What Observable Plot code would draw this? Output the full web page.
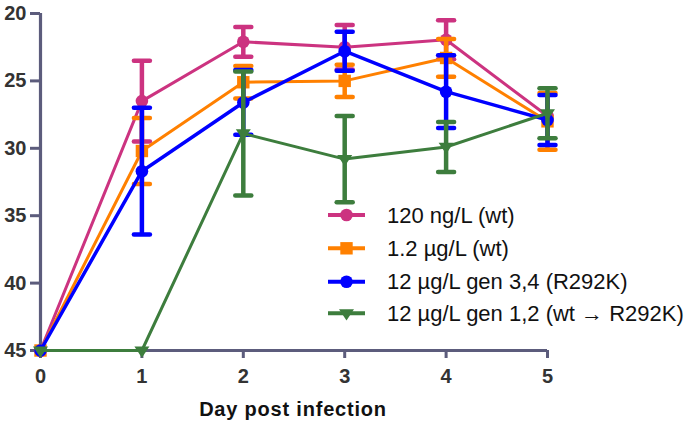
<!DOCTYPE html>
<html>
<head>
<meta charset="utf-8">
<script src="https://cdn.jsdelivr.net/npm/d3@7"></script>
<script src="https://cdn.jsdelivr.net/npm/@observablehq/plot@0.6"></script>
<style>
  html, body { margin: 0; padding: 0; background: #fff; }
  #chart { width: 685px; height: 426px; }
</style>
</head>
<body>
<div id="chart"></div>
<script>
// ---- data ----
const days = [0, 1, 2, 3, 4, 5];
const seriesNames = [
  "120 ng/L (wt)",
  "1.2 µg/L (wt)",
  "12 µg/L gen 3,4 (R292K)",
  "12 µg/L gen 1,2 (wt → R292K)"
];
const wt120Mean   = [45, 26.5, 22.1, 22.5, 21.95, 27.6];
const wt120Err    = [0, 3.0, 1.1, 1.65, 1.45, 0];
const wt12Mean    = [45, 30.2, 25.1, 25.0, 23.3, 28.0];
const wt12Err     = [0, 2.45, 1.2, 1.2, 1.4, 2.1];
const gen34Mean   = [45, 31.7, 26.6, 22.8, 25.8, 27.9];
const gen34Err    = [0, 4.7, 2.4, 1.45, 2.7, 1.85];
const gen12Mean   = [45, 45, 28.9, 30.8, 29.9, 27.4];
const gen12Err    = [0, 0, 4.6, 3.2, 1.85, 1.85];
const yTicks = [20, 25, 30, 35, 40, 45];
const xTicks = [0, 1, 2, 3, 4, 5];
const xLabel = "Day post infection";

const colors = ["#cc3380", "#ff8000", "#0000ff", "#3d7d3d"];

// custom symbols
const capSymbol = {
  draw(ctx, size) {
    const r = Math.sqrt(size / Math.PI);
    ctx.moveTo(-r, 0);
    ctx.lineTo(r, 0);
  }
};
const triDown = {
  draw(ctx, size) {
    const r = Math.sqrt(size / Math.PI);
    ctx.moveTo(-r, -r * 0.55);
    ctx.lineTo(r, -r * 0.55);
    ctx.lineTo(0, r * 0.95);
    ctx.closePath();
  }
};
const symbols = ["circle", "square", "circle", triDown];
const symR = [6.3, 7, 6.3, 7.5];
const lineW = [3, 3, 3.5, 3];

const means = [wt120Mean, wt12Mean, gen34Mean, gen12Mean];
const errs = [wt120Err, wt12Err, gen34Err, gen12Err];

const rows = seriesNames.map((name, s) => days.map((d, i) => ({
  name, s, day: d, mean: means[s][i], err: errs[s][i],
  lo: means[s][i] - errs[s][i], hi: means[s][i] + errs[s][i]
})));

const axisColor = "#5c5c7c";

const marks = [];
rows.forEach((data, s) => {
  const eb = data.filter(d => d.err > 0);
  marks.push(
    Plot.line(data, {x: "day", y: "mean", stroke: colors[s], strokeWidth: lineW[s]}),
    Plot.ruleX(eb, {x: "day", y1: "lo", y2: "hi", stroke: colors[s], strokeWidth: 4.5}),
    Plot.dot(eb, {x: "day", y: "lo", symbol: capSymbol, r: 8, stroke: colors[s], strokeWidth: 4.5, strokeLinecap: "round", fill: "none"}),
    Plot.dot(eb, {x: "day", y: "hi", symbol: capSymbol, r: 8, stroke: colors[s], strokeWidth: 4.5, strokeLinecap: "round", fill: "none"}),
    Plot.dot(data, {x: "day", y: "mean", symbol: symbols[s], r: symR[s], fill: colors[s], stroke: "none"})
  );
});

const chart = Plot.plot({
  width: 685,
  height: 426,
  marginLeft: 40,
  marginRight: 138,
  marginTop: 13,
  marginBottom: 76,
  style: {fontFamily: "Liberation Sans, Arial, sans-serif", background: "#fff"},
  x: {domain: [0, 5]},
  y: {domain: [20, 45], reverse: true},
  marks: [
    Plot.ruleX([0], {stroke: axisColor, strokeWidth: 3.2}),
    Plot.ruleY([45], {stroke: axisColor, strokeWidth: 3.2}),
    Plot.axisY(yTicks, {tickSize: 10, tickPadding: 4, stroke: axisColor, strokeWidth: 3, fontSize: 20, fontWeight: "bold", fill: "#333", label: null}),
    Plot.axisX(xTicks, {tickSize: 8, tickPadding: 10, stroke: axisColor, strokeWidth: 3, fontSize: 20, fontWeight: "bold", fill: "#333", label: null}),
    ...marks
  ]
});

document.getElementById("chart").appendChild(chart);

// axis title and legend
const svg = d3.select(chart);
svg.append("text")
  .attr("x", 293).attr("y", 416)
  .attr("text-anchor", "middle")
  .attr("font-size", 20).attr("font-weight", "bold")
  .attr("letter-spacing", "0.8px")
  .attr("fill", "#111")
  .text(xLabel);

const legendY = [215, 248.3, 281.7, 313.3];
const lg = svg.append("g").attr("text-anchor", "start");
seriesNames.forEach((name, s) => {
  const y = legendY[s];
  lg.append("line").attr("x1", 328).attr("x2", 365).attr("y1", y).attr("y2", y)
    .attr("stroke", colors[s]).attr("stroke-width", 4);
  lg.append("path")
    .attr("transform", `translate(346.5,${y})`)
    .attr("d", d3.symbol(typeof symbols[s] === "string" ? (symbols[s] === "square" ? d3.symbolSquare : d3.symbolCircle) : symbols[s], symR[s] * symR[s] * Math.PI)())
    .attr("fill", colors[s]);
  lg.append("text").attr("x", 387).attr("y", y).attr("dy", "0.35em")
    .attr("text-anchor", "start")
    .attr("font-size", 22).attr("fill", "#111")
    .text(name);
});
</script>
</body>
</html>
